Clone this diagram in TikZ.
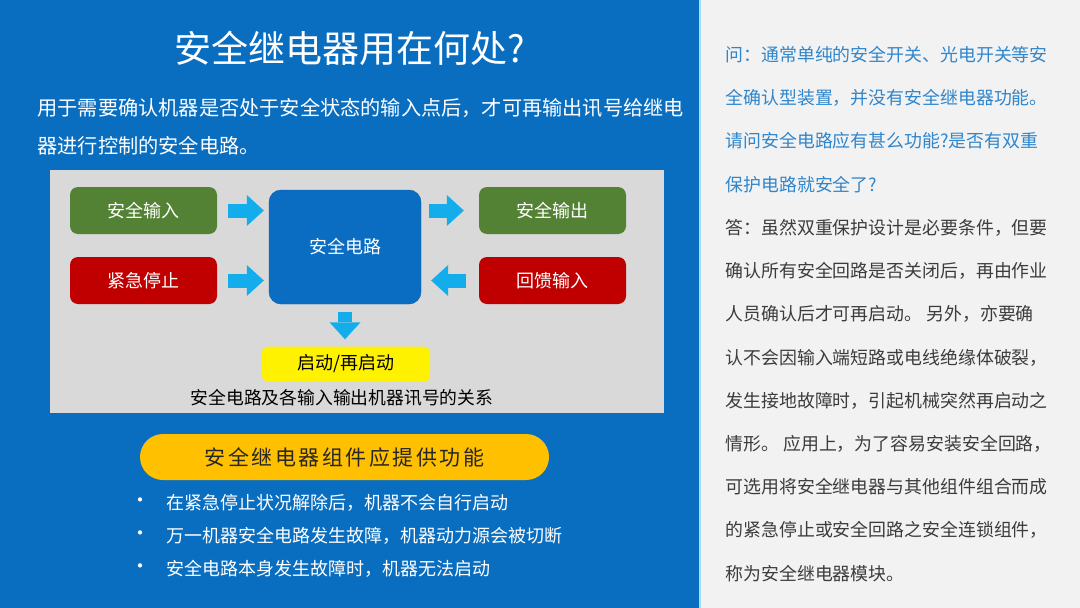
\documentclass[tikz,border=0pt]{standalone}
\usepackage{fontspec}
\usepackage{tikz}
\usetikzlibrary{arrows.meta}

\newfontfamily\cjk{Noto Sans CJK SC}
\newfontfamily\cjkwide[LetterSpace=12]{Noto Sans CJK SC}

\definecolor{bgblue}{HTML}{0A6EC0}
\definecolor{panelgray}{HTML}{F2F2F2}
\definecolor{stripcyan}{HTML}{A6DCF6}
\definecolor{diagramgray}{HTML}{D9D9D9}
\definecolor{boxgreen}{HTML}{548235}
\definecolor{boxred}{HTML}{C00000}
\definecolor{circblue}{HTML}{0B6DC2}
\definecolor{arrowcyan}{HTML}{12ADEA}
\definecolor{pillorange}{HTML}{FFC000}
\definecolor{qblue}{HTML}{2F86CC}
\definecolor{agray}{HTML}{3C3C3C}

\tikzset{
  box/.style={rounded corners=8pt, minimum width=147pt, minimum height=47pt,
    text=white, font=\cjk\fontsize{18}{22}\selectfont},
  okbox/.style={box, fill=boxgreen},
  stopbox/.style={box, fill=boxred},
  flow/.style={draw=arrowcyan, line width=14pt,
    -{Triangle[length=17pt,width=31pt,line width=0pt]}},
  item/.style={anchor=west, text=white, font=\cjk\fontsize{18}{22}\selectfont},
  dot/.style={text=white, font=\cjk\fontsize{20}{22}\selectfont},
  panel/.style={anchor=west, align=left, font=\cjk\fontsize{17.9}{43.2}\selectfont}
}

\begin{document}
\begin{tikzpicture}[x=1pt,y=-1pt]
  \useasboundingbox (0,0) rectangle (1080,608);

  % 背景（左蓝、右灰）
  \fill[bgblue] (0,0) rectangle (700,608);
  \fill[panelgray] (700,0) rectangle (1080,608);
  \draw[stripcyan, line width=2.5pt] (700,0) -- (700,608);

  % 标题与说明
  \node[text=white, font=\cjk\fontsize{37}{40}\selectfont] (title) at (350,48) {安全继电器用在何处?};
  \node[anchor=west, align=left, text=white, font=\cjk\fontsize{20.2}{38}\selectfont] (intro) at (34,127)
    {用于需要确认机器是否处于安全状态的输入点后，才可再输出讯号给继电\\器进行控制的安全电路。};

  % 关系图
  \fill[diagramgray] (50,170) rectangle (664,413);
  \node[okbox] (in) at (143.5,210.5) {安全输入};
  \node[stopbox] (stop) at (143.5,280.5) {紧急停止};
  \node[box, fill=circblue, draw=circblue!85!black, rounded corners=12pt,
    minimum width=152pt, minimum height=114pt] (circ) at (345,247) {安全电路};
  \node[okbox] (out) at (552.5,210.5) {安全输出};
  \node[stopbox] (fb) at (552.5,280.5) {回馈输入};
  \node[fill=yellow, rounded corners=6pt, minimum width=168pt, minimum height=35pt,
    font=\cjk\fontsize{18}{22}\selectfont] (start) at (346,364) {启动/再启动};
  \node[font=\cjk\fontsize{17.8}{22}\selectfont] (caption) at (342,398) {安全电路及各输入输出机器讯号的关系};

  % 箭头
  \draw[flow, shorten <=11pt, shorten >=5pt] (in.east) -- (in.east -| circ.west);
  \draw[flow, shorten <=11pt, shorten >=5pt] (stop.east) -- (stop.east -| circ.west);
  \draw[flow, shorten <=8pt, shorten >=15pt] (out.west -| circ.east) -- (out.west);
  \draw[flow, shorten <=13pt, shorten >=10pt] (fb.west) -- (fb.west -| circ.east);
  \draw[flow, shorten <=8pt, shorten >=7pt] (circ.south) -- (start.north -| circ.south);

  % 功能
  \node[fill=pillorange, rounded corners=23pt, minimum width=409pt, minimum height=46pt,
    text=black!85, font=\cjkwide\fontsize{21}{24}\selectfont] (func) at (344.5,457) {安全继电器组件应提供功能};
  \foreach \y/\txt [count=\i] in {503/在紧急停止状况解除后，机器不会自行启动,
      536/万一机器安全电路发生故障，机器动力源会被切断,
      569/安全电路本身发生故障时，机器无法启动} {
    \node[dot] (dot\i) at (140,\y) {•};
    \node[item] (item\i) at (163,\y) {\txt};
  }

  % 右侧问答
  \node[panel, text=qblue] (question) at (722,119.5)
    {问：通常单纯的安全开关、光电开关等安\\
     全确认型装置，并没有安全继电器功能。\\
     请问安全电路应有甚么功能?是否有双重\\
     保护电路就安全了?};
  \node[panel, text=agray] (answer) at (722,400.5)
    {答：虽然双重保护设计是必要条件，但要\\
     确认所有安全回路是否关闭后，再由作业\\
     人员确认后才可再启动。 另外，亦要确\\
     认不会因输入端短路或电线绝缘体破裂，\\
     发生接地故障时，引起机械突然再启动之\\
     情形。 应用上，为了容易安装安全回路，\\
     可选用将安全继电器与其他组件组合而成\\
     的紧急停止或安全回路之安全连锁组件，\\
     称为安全继电器模块。};
\end{tikzpicture}
\end{document}
